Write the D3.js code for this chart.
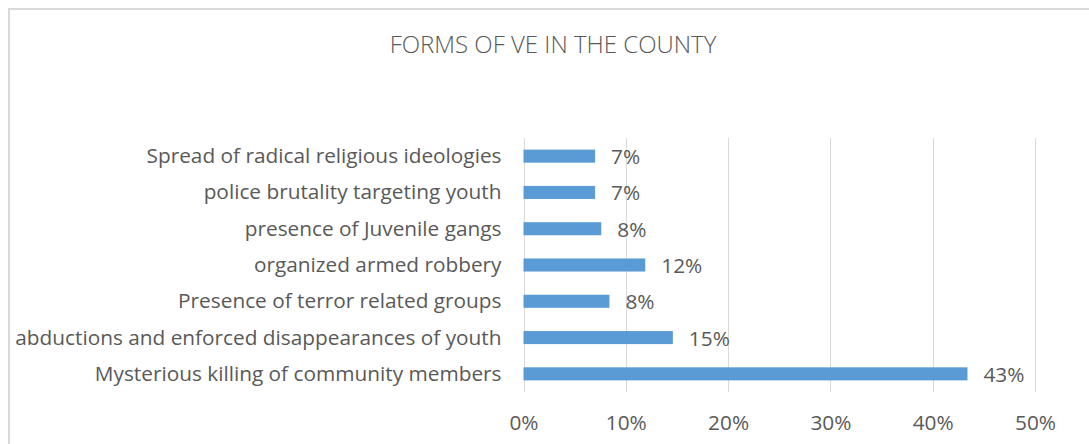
<!DOCTYPE html>
<html>
<head>
<meta charset="utf-8">
<script src="https://cdn.jsdelivr.net/npm/d3@7"></script>
<style>
  html, body { margin: 0; padding: 0; background: #ffffff; }
  svg { display: block; }
  text { font-family: "Open Sans", "Liberation Sans", sans-serif; fill: #595959; }
</style>
</head>
<body>
<svg id="chart" width="1089" height="444"></svg>
<script>
// Survey categories, listed top to bottom
const categories = [
  "Spread of radical religious ideologies",
  "police brutality targeting youth",
  "presence of Juvenile gangs",
  "organized armed robbery",
  "Presence of terror related groups",
  "abductions and enforced disappearances of youth",
  "Mysterious killing of community members"
];
// Share of respondents for each form (fraction)
const shares = [0.070, 0.070, 0.076, 0.119, 0.084, 0.146, 0.434];
// Axis ticks
const tickValues = [0, 0.1, 0.2, 0.3, 0.4, 0.5];
const chartTitle = "FORMS OF VE IN THE COUNTY";

const svg = d3.select("#chart");
const W = 1089, H = 444;
const labelFont = "\"Open Sans\", \"Liberation Sans\", sans-serif";
const labelSize = "20.8px";

// Chart area frame
svg.append("rect")
  .attr("x", 9).attr("y", 9)
  .attr("width", W + 20).attr("height", H + 20)
  .attr("fill", "#ffffff")
  .attr("stroke", "#D9D9D9")
  .attr("stroke-width", 2);

const plot = { left: 523.5, right: 1035, top: 138, bottom: 392 };

const x = d3.scaleLinear().domain([0, 0.5]).range([plot.left, plot.right]);
const y = d3.scaleBand()
  .domain(categories)
  .range([plot.top, plot.bottom])
  .paddingInner(0.64)
  .paddingOuter(0.32);

const pct = d3.format(".0%");

// Title
svg.append("text")
  .attr("x", 553).attr("y", 47)
  .attr("text-anchor", "middle")
  .attr("dominant-baseline", "middle")
  .style("font-size", "24px")
  .style("font-weight", 300)
  .style("fill", "#595959")
  .text(chartTitle);

// Vertical gridlines
svg.append("g")
  .selectAll("line")
  .data(tickValues)
  .join("line")
  .attr("x1", d => Math.round(x(d)) + 0.5)
  .attr("x2", d => Math.round(x(d)) + 0.5)
  .attr("y1", plot.top)
  .attr("y2", plot.bottom)
  .attr("stroke", "#D9D9D9")
  .attr("stroke-width", 1);

// Bottom axis labels (no domain line or ticks)
const xAxis = d3.axisBottom(x)
  .tickValues(tickValues)
  .tickFormat(pct)
  .tickSize(0)
  .tickPadding(0);
const gx = svg.append("g")
  .attr("transform", `translate(0,${plot.bottom + 32})`)
  .call(xAxis);
gx.select(".domain").remove();
gx.selectAll("text")
  .attr("dy", null)
  .attr("dominant-baseline", "middle")
  .style("font-family", labelFont)
  .style("font-size", labelSize)
  .style("fill", "#595959");

// Category labels
const gy = svg.append("g")
  .attr("transform", `translate(${plot.left - 22},1.5)`)
  .call(d3.axisLeft(y).tickSize(0).tickPadding(0));
gy.select(".domain").remove();
gy.selectAll("text")
  .attr("dy", null)
  .attr("dominant-baseline", "middle")
  .style("font-family", labelFont)
  .style("font-size", labelSize)
  .style("fill", "#595959");

// Bars
svg.append("g")
  .selectAll("rect")
  .data(categories)
  .join("rect")
  .attr("x", x(0))
  .attr("y", d => y(d))
  .attr("width", (d, i) => x(shares[i]) - x(0))
  .attr("height", y.bandwidth())
  .attr("fill", "#5B9BD5");

// Value labels
svg.append("g")
  .selectAll("text")
  .data(categories)
  .join("text")
  .attr("x", (d, i) => x(shares[i]) + 16)
  .attr("y", d => y(d) + y.bandwidth() / 2 + 2.5)
  .attr("dominant-baseline", "middle")
  .style("font-size", labelSize)
  .text((d, i) => pct(shares[i]));
</script>
</body>
</html>
